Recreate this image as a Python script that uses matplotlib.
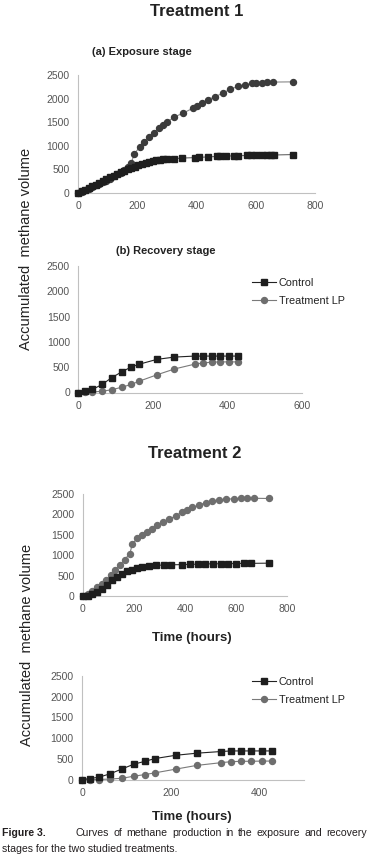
import matplotlib
matplotlib.use("Agg")
import matplotlib.pyplot as plt

plt.rcParams['font.family'] = ['Liberation Sans', 'DejaVu Sans']

# ---------------- data ----------------
# Treatment 1 - exposure stage
t_ctrl_exp1 = [0, 12, 24, 36, 48, 60, 72, 84, 96, 108, 120, 132, 144, 156, 168, 180, 192, 204, 216, 228,
               240, 252, 264, 276, 288, 300, 324, 350, 395, 410, 440, 470, 480, 500, 525, 540, 570, 585, 600, 620,
               637, 650, 660, 727]
ctrl_exp1 = [0, 35, 70, 110, 145, 180, 215, 250, 290, 330, 370, 410, 440, 470, 500, 530, 560, 600, 620, 640,
             660, 675, 690, 700, 710, 715, 725, 740, 750, 755, 765, 775, 780, 785, 785, 790, 795, 795, 800, 800,
             805, 805, 805, 815]
t_lp_exp1 = [0, 12, 24, 36, 48, 60, 72, 84, 96, 108, 120, 132, 144, 156, 168, 180, 190, 208, 224, 240,
             256, 272, 288, 300, 325, 354, 389, 402, 419, 439, 463, 490, 514, 541, 564, 588, 601, 622, 638, 659,
             726]
lp_exp1 = [0, 30, 60, 95, 130, 165, 195, 225, 260, 300, 350, 395, 430, 490, 560, 640, 830, 970, 1080, 1180,
           1270, 1370, 1440, 1500, 1610, 1690, 1800, 1850, 1900, 1980, 2040, 2120, 2200, 2260, 2290, 2320, 2330,
           2340, 2350, 2350, 2355]

# Recovery stage times (both treatments)
t_rec = [0, 18, 38, 64, 90, 117, 142, 164, 211, 258, 312, 335, 359, 381, 405, 428]
ctrl_rec1 = [0, 25, 60, 160, 295, 410, 505, 560, 655, 700, 720, 720, 720, 720, 720, 720]
lp_rec1 = [0, 5, 10, 25, 55, 105, 160, 225, 350, 465, 560, 585, 600, 605, 605, 605]

# Treatment 2 - exposure stage
t_ctrl_exp2 = [0, 18, 35, 55, 75, 94, 114, 134, 153, 173, 193, 212, 232, 258, 285, 317, 345, 390, 420, 450,
               480, 510, 540, 570, 600, 630, 660, 730]
ctrl_exp2 = [0, 10, 40, 100, 165, 260, 385, 465, 545, 605, 645, 690, 720, 735, 750, 760, 765, 770, 775, 780,
             785, 790, 790, 795, 795, 800, 800, 805]
t_lp_exp2 = [0, 18, 35, 55, 75, 92, 108, 127, 144, 163, 184, 193, 212, 232, 252, 272, 291, 315, 337, 363,
             390, 409, 429, 455, 481, 507, 534, 560, 593, 619, 645, 672, 730]
lp_exp2 = [0, 40, 120, 220, 300, 400, 505, 630, 750, 890, 1040, 1270, 1410, 1490, 1570, 1650, 1730, 1820, 1885,
           1960, 2065, 2120, 2170, 2230, 2285, 2325, 2350, 2370, 2385, 2390, 2395, 2395, 2390]

# Treatment 2 - recovery stage
ctrl_rec2 = [0, 24, 55, 140, 255, 370, 440, 505, 585, 635, 675, 690, 690, 690, 690, 690]
lp_rec2 = [0, 0, 0, 12, 30, 80, 120, 160, 250, 340, 405, 430, 440, 440, 445, 445]

series_names = ["Control", "Treatment LP"]
y_ticks = [0, 500, 1000, 1500, 2000, 2500]

# ---------------- figure ----------------
W, H = 369, 865
fig = plt.figure(figsize=(W / 100, H / 100), dpi=100)


def px_axes(x0, x1, ytop, ybot):
    return fig.add_axes([x0 / W, 1 - ybot / H, (x1 - x0) / W, (ybot - ytop) / H])


def style(ax, xmax, xticks):
    ax.set_xlim(0, xmax)
    ax.set_ylim(0, 2500)
    ax.set_xticks(xticks)
    ax.set_yticks(y_ticks)
    for s in ['top', 'right']:
        ax.spines[s].set_visible(False)
    for s in ['left', 'bottom']:
        ax.spines[s].set_color('#c0c0c0')
        ax.spines[s].set_linewidth(0.8)
    ax.tick_params(length=0, labelsize=7.5, labelcolor='#555555', pad=6)
    ax.patch.set_alpha(0)


def draw(ax, tc, c, tl, l, lp_face, ctrl_line, lp_line):
    ax.plot(tl, l, '-', color=lp_line, lw=0.8, marker='o', ms=4.3,
            mfc=lp_face, mec=lp_face, clip_on=False, label=series_names[1], zorder=3)
    ax.plot(tc, c, '-', color=ctrl_line, lw=0.8, marker='s', ms=4.6,
            mfc='#1e1e1e', mec='#1e1e1e', clip_on=False, label=series_names[0], zorder=4)


# Panel (a) Treatment 1 exposure
ax1 = px_axes(78, 315, 75, 193)
style(ax1, 800, [0, 200, 400, 600, 800])
draw(ax1, t_ctrl_exp1, ctrl_exp1, t_lp_exp1, lp_exp1, '#3c3c3c', '#666666', '#8a8a8a')

# Panel (b) Treatment 1 recovery
ax2 = px_axes(78.3, 302, 266, 392.5)
style(ax2, 600, [0, 200, 400, 600])
draw(ax2, t_rec, ctrl_rec1, t_rec, lp_rec1, '#6e6e6e', '#222222', '#7a7a7a')

# Treatment 2 exposure
ax3 = px_axes(83, 287, 494, 596)
style(ax3, 800, [0, 200, 400, 600, 800])
draw(ax3, t_ctrl_exp2, ctrl_exp2, t_lp_exp2, lp_exp2, '#6e6e6e', '#333333', '#7a7a7a')

# Treatment 2 recovery
ax4 = px_axes(82, 304, 676, 779.5)
style(ax4, 500, [0, 200, 400])
draw(ax4, t_rec, ctrl_rec2, t_rec, lp_rec2, '#6e6e6e', '#222222', '#7a7a7a')

# legends
for ax, ymid in [(ax2, 292), (ax4, 691)]:
    h, lab = ax.get_legend_handles_labels()
    order = [lab.index(n) for n in series_names]
    ax.legend([h[i] for i in order], [lab[i] for i in order], loc='center left',
              bbox_to_anchor=(252 / W, 1 - ymid / H), bbox_transform=fig.transFigure,
              frameon=False, fontsize=7.8, handlelength=2.2, handletextpad=0.25,
              labelspacing=0.75, borderpad=0, borderaxespad=0, labelcolor='#222222')

# texts
def ftext(x, y, s, **kw):
    return fig.text(x / W, 1 - y / H, s, **kw)

ftext(197, 12, "Treatment 1", ha='center', va='center', fontsize=12, fontweight='bold', color='#222222')
ftext(142, 52, "(a) Exposure stage", ha='center', va='center', fontsize=8, fontweight='bold', color='#222222')
ftext(166, 251, "(b) Recovery stage", ha='center', va='center', fontsize=8, fontweight='bold', color='#222222')
ftext(195, 454, "Treatment 2", ha='center', va='center', fontsize=12, fontweight='bold', color='#222222')
ftext(192, 638, "Time (hours)", ha='center', va='center', fontsize=9.5, fontweight='bold', color='#222222')
ftext(192, 817, "Time (hours)", ha='center', va='center', fontsize=9.5, fontweight='bold', color='#222222')
ftext(26, 249, "Accumulated  methane volume", ha='center', va='center', rotation=90, fontsize=10.5, color='#222222')
ftext(27, 645, "Accumulated  methane volume", ha='center', va='center', rotation=90, fontsize=10.5, color='#222222')

# caption (line 1 justified between x=76 and x=367)
cap_kw = dict(family=['Liberation Sans', 'DejaVu Sans'], color='#231f20', va='center', ha='left')
line1 = "Curves of methane production in the exposure and recovery"
probe = ftext(0, 900, line1, fontsize=8, **cap_kw)
fig.canvas.draw()
r = fig.canvas.get_renderer()
fs = 8 * 282 / probe.get_window_extent(r).width
probe.remove()
ftext(1.5, 849, "stages for the two studied treatments.", fontsize=fs, **cap_kw)
ftext(1.5, 833, "Figure 3.", fontsize=fs, fontweight='bold', **cap_kw)
words = line1.split()
wtexts = [ftext(0, 833, w, fontsize=fs, **cap_kw) for w in words]
fig.canvas.draw()
widths = [t.get_window_extent(r).width for t in wtexts]
x0, x1 = 76.0, 367.0
gap = (x1 - x0 - sum(widths)) / (len(words) - 1)
x = x0
for t, wd in zip(wtexts, widths):
    t.set_x(x / W)
    x += wd + gap

fig.savefig("out.png", dpi=100)
